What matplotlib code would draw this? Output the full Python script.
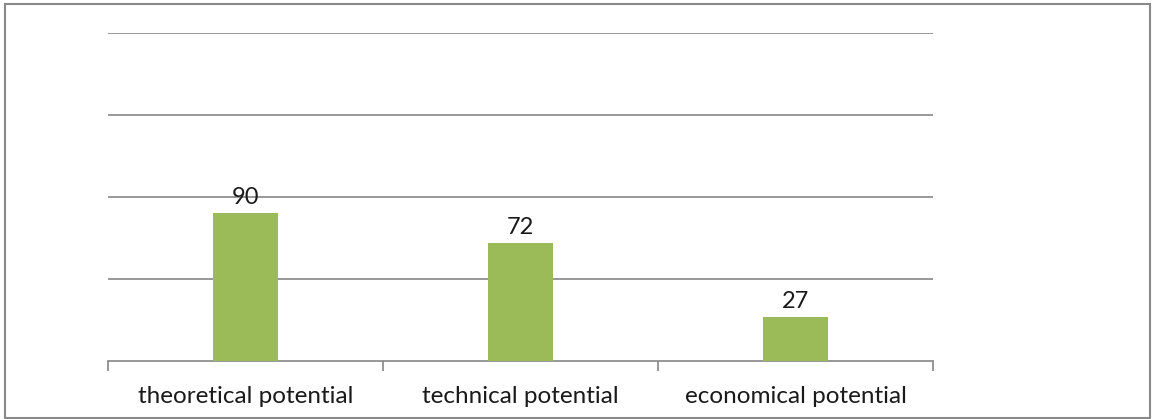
import matplotlib.pyplot as plt
from matplotlib.patches import Rectangle

# Data
categories = ['theoretical potential', 'technical potential', 'economical potential']
values = [90, 72, 27]

plt.rcParams['font.family'] = ['Lato', 'DejaVu Sans']

fig = plt.figure(figsize=(11.52, 4.19), dpi=100)
ax = fig.add_axes([108 / 1152, 1 - 361 / 419, (933 - 108) / 1152, (361 - 33) / 419])

x = range(len(categories))
bars = ax.bar(x, values, width=0.236, color='#9BBB59', zorder=3)
for b, v in zip(bars, values):
    ax.text(b.get_x() + b.get_width() / 2, v + 3, str(v), ha='center', va='bottom',
            fontsize=17, color='#1a1a1a')

ax.set_xlim(-0.5, 2.5)
ax.set_ylim(0, 200)
ax.set_yticks([50, 100, 150, 200])
ax.yaxis.grid(True, color='#868686', linewidth=1.2, zorder=0)
ax.tick_params(axis='y', left=False, labelleft=False)

# category ticks at the boundaries, labels centred
ax.set_xticks([-0.5, 0.5, 1.5, 2.5])
ax.set_xticklabels([])
ax.set_xticks(list(x), minor=True)
ax.set_xticklabels(categories, minor=True, fontsize=17.5, color='#1a1a1a')
ax.tick_params(axis='x', which='major', length=7, width=1.2, color='#868686', direction='out')
ax.tick_params(axis='x', which='minor', length=0, pad=18)

for s in ['top', 'right', 'left']:
    ax.spines[s].set_visible(False)
ax.spines['bottom'].set_color('#868686')
ax.spines['bottom'].set_linewidth(1.2)

# outer border of the chart
fig.patches.append(Rectangle((5 / 1152, 1.5 / 419), 1145 / 1152, 413 / 419, transform=fig.transFigure,
                             fill=False, edgecolor='#898989', linewidth=1.5))

fig.savefig('out.png', dpi=100)
